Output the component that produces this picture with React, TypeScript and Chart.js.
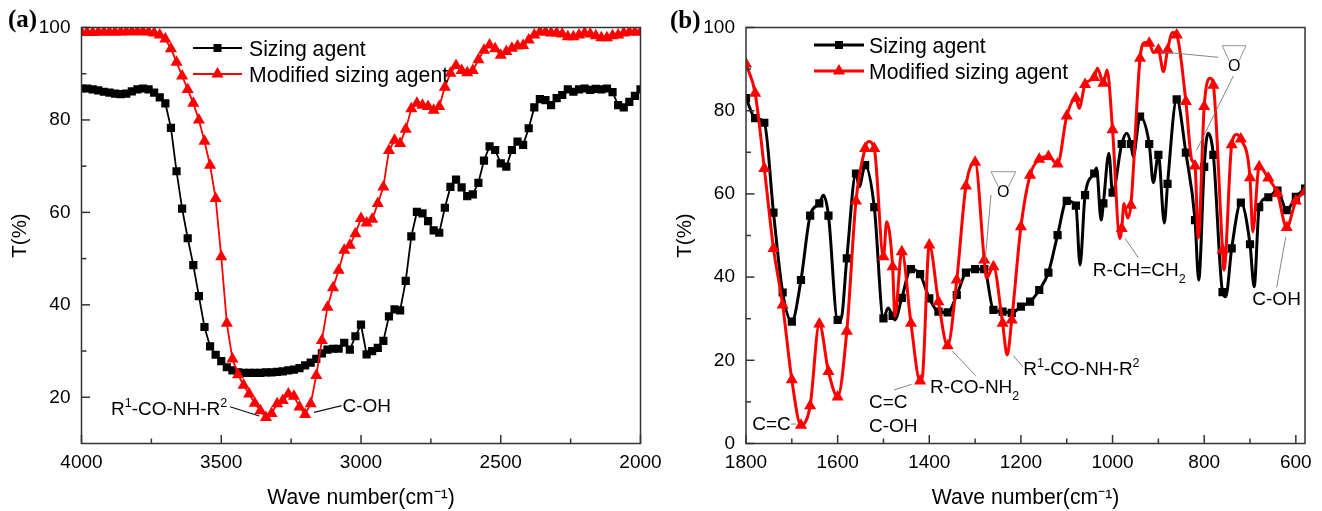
import React, { useEffect, useRef } from "react";
import { Chart, registerables } from "chart.js";

Chart.register(...registerables);

const wavenumbersA = [4000,3980,3960,3940,3920,3900,3880,3860,3840,3820,3800,3780,3760,3740,3720,3700,3680,3660,3640,3620,3600,3580,3560,3540,3520,3500,3480,3460,3440,3420,3400,3380,3360,3340,3320,3300,3280,3260,3240,3220,3200,3180,3160,3140,3120,3100,3080,3060,3040,3020,3000,2980,2960,2940,2920,2900,2880,2860,2840,2820,2800,2780,2760,2740,2720,2700,2680,2660,2640,2620,2600,2580,2560,2540,2520,2500,2480,2460,2440,2420,2400,2380,2360,2340,2320,2300,2280,2260,2240,2220,2200,2180,2160,2140,2120,2100,2080,2060,2040,2020,2000];
const sizingA = [86.8,86.8,86.6,86.4,86.1,85.9,85.7,85.6,85.7,86.2,86.6,86.8,86.6,85.9,84.9,83.6,78.3,68.9,60.8,54.4,48.6,41.9,35.2,31.0,29.2,27.8,26.5,25.8,25.4,25.3,25.3,25.3,25.3,25.4,25.4,25.5,25.6,25.8,26.0,26.3,26.9,27.5,28.3,29.5,30.3,30.5,30.5,31.8,30.3,33.2,35.7,29.3,30.0,30.7,32.2,37.5,39.0,38.8,45.2,54.8,60.1,59.8,58.1,56.1,55.6,61.0,65.5,67.1,65.4,63.5,63.9,66.4,71.2,74.3,73.5,70.6,69.9,73.5,75.3,74.6,78.2,82.7,84.5,84.3,83.2,84.7,85.4,86.6,86.1,86.6,86.8,86.5,86.7,86.6,86.8,86.0,83.2,82.7,83.9,85.2,86.6];
const modifiedA = [98.9,98.9,98.9,99,99,99,99,99,99.1,99.1,99.1,99.1,99,98.8,98.4,97.5,95.4,92.5,89.5,86.6,83.6,80.0,75.4,70.2,63.0,50.4,36.0,28.3,24.9,22.6,20.7,18.7,17.1,15.6,16.5,18.6,19.3,20.7,20.2,17.9,16.3,18.6,24.7,32.3,39.5,43.7,47.5,51.8,52.9,55.4,58.7,57.7,58.5,61.9,65.5,73.4,75.6,74.9,78.0,82.4,83.6,83.2,82.9,82.1,82.9,87.1,90.1,91.8,90.7,90.2,90.7,93.0,95.1,96.2,95.4,94.0,94.8,95.5,96.0,96.1,97.3,98.4,99,99,98.8,98.8,98.6,98,98,98.4,98.8,98.6,98.2,97.8,97.8,98.2,98.4,98.8,99,99,99];

const markerWnB = [1800,1780,1760,1740,1720,1700,1680,1660,1640,1620,1600,1580,1560,1540,1520,1500,1480,1460,1440,1420,1400,1380,1360,1340,1320,1300,1280,1260,1240,1220,1200,1180,1160,1140,1120,1100,1080,1060,1040,1020,1000,980,960,940,920,900,880,860,840,820,800,780,760,740,720,700,680,660,640,620,600,580];
const sizingMarkersB = [83.0,78.2,77.1,55.5,36.3,29.3,39.3,54.8,57.7,54.8,29.7,44.5,64.9,66.9,56.8,30.1,30.7,35.0,41.9,40.7,34.9,31.7,31.5,35.7,41.1,41.9,41.9,32.1,31.7,31.4,32.9,34.1,36.9,41.1,50.1,58.3,57.2,59.7,64.9,57.7,60.3,72.0,72.0,78.6,72.0,69.4,62.4,82.7,69.9,53.7,66.5,69.4,36.4,46.9,57.9,47.9,56.8,59.2,60.8,56.1,59.3,61.3];
const modifiedMarkersB = [91.2,84.2,66.1,46.9,33.3,15.3,4.4,9.1,28.7,17.3,11.2,27.0,58.3,70.9,70.9,44.9,42.5,46.1,28.9,15.0,47.7,34.1,23.5,39.3,61.9,67.6,44.1,42.5,28.9,29.7,52.1,64.5,68.3,69.0,67.2,78.7,83.0,86.3,88.0,86.6,75.4,51.7,57.3,92.6,96.2,94.6,94.6,98.2,82.2,66.7,81.0,86.1,46.5,71.8,73.2,63.9,66.5,63.8,60.1,51.9,58.3,60.5];
const sizingExtraWnB = [1631,1593,1553,1490,1475,1071,1035,1025,1008,969,955,911,887,812,792,753,691];
const sizingExtraB = [59.7,29.7,61.7,32.6,29.7,42.9,66.2,53.7,69.8,74.6,69.0,62.7,53.0,39.3,74.6,35.3,37.7];
const modifiedExtraWnB = [1533,1493,1475,1415,1275,1230,1073,1033,1012,984,975,967,929,911,889,869,827,813,787,757,729,694];
const modifiedExtraB = [72.6,53.3,30.5,16.0,39.8,21.3,80.6,90.2,89.8,49.3,57.7,54.2,96.4,94.0,89.4,98.8,68.1,49.4,87.8,41.7,74.3,50.9];

const seriesNames = ["Sizing agent", "Modified sizing agent"];
const xTitle = "Wave number(cm⁻¹)";
const yTitle = "T(%)";
const xMajorA = [4000, 3500, 3000, 2500, 2000];
const xMinorA = [3750, 3250, 2750, 2250];
const yMajorA = [100, 80, 60, 40, 20];
const yMinorA = [90, 70, 50, 30];
const xMajorB = [1800, 1600, 1400, 1200, 1000, 800, 600];
const xMinorB = [1700, 1500, 1300, 1100, 900, 700];
const yMajorB = [100, 80, 60, 40, 20, 0];
const yMinorB = [90, 70, 50, 30, 10];

const FONT = '"Liberation Sans", Arial, sans-serif';
const BLACK = "#000000";
const RED = "#ff0000";
const FRAME = "#333333";

type Seg = [string, number];
const sup = (ctx: any, x: number, y: number, segs: Seg[], size: number) => {
  let cx = x;
  ctx.textAlign = "left";
  ctx.textBaseline = "alphabetic";
  for (const [t, shift] of segs) {
    const s = shift === 0 ? size : 12.5;
    ctx.font = `${s}px ${FONT}`;
    ctx.fillText(t, cx, y + (shift > 0 ? -8 : shift < 0 ? 7 : 0));
    cx += ctx.measureText(t).width;
  }
};

const seg = (ctx: any, color: string, w: number, pts: number[]) => {
  ctx.strokeStyle = color;
  ctx.lineWidth = w;
  ctx.beginPath();
  ctx.moveTo(pts[0], pts[1]);
  ctx.lineTo(pts[2], pts[3]);
  ctx.stroke();
};

const frameAndTicks = {
  id: "frameAndTicks",
  afterDatasetsDraw(chart: any) {
    const { ctx, chartArea: a, scales } = chart;
    ctx.save();
    ctx.strokeStyle = FRAME;
    ctx.lineWidth = 1.5;
    ctx.strokeRect(a.left, a.top, a.right - a.left, a.bottom - a.top);
    for (const t of scales.x.ticks) {
      const p = scales.x.getPixelForValue(t.value);
      const l = t.label ? 8.5 : 5;
      seg(ctx, FRAME, 1.5, [p, a.bottom, p, a.bottom - l]);
    }
    for (const t of scales.y.ticks) {
      const p = scales.y.getPixelForValue(t.value);
      const l = t.label ? 8.5 : 5;
      seg(ctx, FRAME, 1.5, [a.left, p, a.left + l, p]);
    }
    ctx.restore();
  },
};

const legendMark = (ctx: any, color: string, w: number, x0: number, x1: number, y: number, tri: boolean, mr: number) => {
  seg(ctx, color, w, [x0, y, x1, y]);
  ctx.fillStyle = color;
  const cx = (x0 + x1) / 2;
  ctx.beginPath();
  if (tri) {
    ctx.moveTo(cx, y - mr);
    ctx.lineTo(cx + 0.87 * mr, y + mr / 2);
    ctx.lineTo(cx - 0.87 * mr, y + mr / 2);
    ctx.closePath();
    ctx.fill();
  } else {
    ctx.fillRect(cx - mr, y - mr, 2 * mr, 2 * mr);
  }
};

const annotationsA = {
  id: "annotationsA",
  afterDatasetsDraw(chart: any) {
    const { ctx } = chart;
    ctx.save();
    ctx.fillStyle = "#000";
    ctx.font = 'bold 25px "Liberation Serif", serif';
    ctx.textAlign = "left";
    ctx.textBaseline = "alphabetic";
    ctx.fillText("(a)", 8, 27);
    legendMark(ctx, BLACK, 1.8, 193, 242, 48, false, 4);
    legendMark(ctx, RED, 1.8, 193, 242, 74, true, 7);
    ctx.fillStyle = "#000";
    ctx.font = `21.2px ${FONT}`;
    ctx.fillText(seriesNames[0], 249, 55.5);
    ctx.fillText(seriesNames[1], 249, 81.5);
    sup(ctx, 111, 415, [["R", 0], ["1", 1], ["-CO-NH-R", 0], ["2", 1]], 19);
    sup(ctx, 342.5, 412, [["C-OH", 0]], 19);
    seg(ctx, "#111", 1.2, [230, 406.7, 259.3, 416]);
    seg(ctx, "#111", 1.2, [314, 412.3, 341.7, 405.7]);
    ctx.restore();
  },
};

const epoxy = (ctx: any, x0: number, x1: number, y: number, ox: number, oy: number) => {
  const mid = (x0 + x1) / 2;
  ctx.strokeStyle = "#888";
  ctx.lineWidth = 0.9;
  ctx.beginPath();
  ctx.moveTo(mid - 5, y + 15);
  ctx.lineTo(x0, y);
  ctx.lineTo(x1, y);
  ctx.lineTo(mid + 5, y + 15);
  ctx.stroke();
  ctx.fillStyle = "#000";
  ctx.font = `16px ${FONT}`;
  ctx.textAlign = "center";
  ctx.textBaseline = "middle";
  ctx.fillText("O", ox, oy);
};

const annotationsB = {
  id: "annotationsB",
  afterDatasetsDraw(chart: any) {
    const { ctx } = chart;
    const dx = -665;
    ctx.save();
    ctx.translate(dx, 0);
    ctx.fillStyle = "#000";
    ctx.font = 'bold 25px "Liberation Serif", serif';
    ctx.textAlign = "left";
    ctx.textBaseline = "alphabetic";
    ctx.fillText("(b)", 670, 28);
    legendMark(ctx, BLACK, 3, 814, 864, 45, false, 4);
    legendMark(ctx, RED, 3, 814, 864, 71, true, 7);
    ctx.fillStyle = "#000";
    ctx.font = `21.2px ${FONT}`;
    ctx.fillText(seriesNames[0], 869, 52.5);
    ctx.fillText(seriesNames[1], 869, 78.5);
    sup(ctx, 752.3, 430, [["C=C", 0]], 19);
    sup(ctx, 869, 407.7, [["C=C", 0]], 19);
    sup(ctx, 869, 431.7, [["C-OH", 0]], 19);
    sup(ctx, 930, 393.3, [["R-CO-NH", 0], ["2", -1]], 19);
    sup(ctx, 1023.3, 375, [["R", 0], ["1", 1], ["-CO-NH-R", 0], ["2", 1]], 19);
    sup(ctx, 1092.7, 275.7, [["R-CH=CH", 0], ["2", -1]], 19);
    sup(ctx, 1252.3, 305, [["C-OH", 0]], 19);
    const grey = "#777";
    seg(ctx, grey, 0.9, [791, 424, 796, 424]);
    seg(ctx, grey, 0.9, [894, 390, 911.7, 384.3]);
    seg(ctx, grey, 0.9, [952.3, 351, 975.7, 375.7]);
    seg(ctx, grey, 0.9, [1013.3, 355.7, 1022.7, 366.7]);
    seg(ctx, grey, 0.9, [1125, 238.3, 1138.3, 257.7]);
    seg(ctx, grey, 0.9, [1285.7, 237.3, 1276.7, 287.3]);
    seg(ctx, grey, 0.9, [1160, 51.7, 1218.3, 57.3]);
    seg(ctx, grey, 0.9, [1233.3, 76, 1196.7, 150]);
    seg(ctx, grey, 0.9, [991, 195, 985, 262]);
    epoxy(ctx, 1222.3, 1246, 45.7, 1234.3, 66.7);
    epoxy(ctx, 991, 1015.7, 171.7, 1003.3, 192.7);
    ctx.restore();
  },
};

const zip = (xs: number[], ys: number[]) => xs.map((x, i) => ({ x, y: ys[i] }));
const merged = (mx: number[], my: number[], ex: number[], ey: number[]) =>
  [...zip(mx, my).map((p) => ({ ...p, m: true })), ...zip(ex, ey).map((p) => ({ ...p, m: false }))].sort((a, b) => b.x - a.x);

const axes = (
  xMin: number, xMax: number, yMin: number, yMax: number,
  xMaj: number[], xMin2: number[], yMaj: number[], yMin2: number[], yWidth: number,
) => {
  const common = { grid: { display: false, drawTicks: false }, border: { display: false } };
  const lab = (maj: number[]) => (v: any) => (maj.includes(Number(v)) ? String(v) : "");
  const tf = { family: FONT, size: 19 };
  return {
    x: {
      ...common,
      type: "linear",
      reverse: true,
      min: xMin,
      max: xMax,
      afterBuildTicks: (s: any) => { s.ticks = [...xMaj, ...xMin2].sort((a, b) => a - b).map((value) => ({ value })); },
      afterFit: (s: any) => { s.height = 67.5; },
      ticks: { color: "#000", font: tf, padding: 8, autoSkip: false, maxRotation: 0, callback: lab(xMaj) },
      title: { display: true, text: xTitle, color: "#000", font: { family: FONT, size: 21.2 }, padding: { top: 2, bottom: 0 } },
    },
    y: {
      ...common,
      min: yMin,
      max: yMax,
      afterBuildTicks: (s: any) => { s.ticks = [...yMaj, ...yMin2].sort((a, b) => a - b).map((value) => ({ value })); },
      afterFit: (s: any) => { s.width = yWidth; },
      ticks: { color: "#000", font: tf, padding: 11, autoSkip: false, callback: lab(yMaj) },
      title: { display: true, text: yTitle, color: "#000", font: { family: FONT, size: 20.5 }, padding: { top: 8, bottom: 0 } },
    },
  };
};

export default function App() {
  const refA = useRef<HTMLCanvasElement>(null);
  const refB = useRef<HTMLCanvasElement>(null);

  useEffect(() => {
    const chartA = new Chart(refA.current as any, {
      type: "line",
      data: {
        datasets: [
          {
            label: seriesNames[1], data: zip(wavenumbersA, modifiedA) as any, order: 0,
            borderColor: RED, backgroundColor: RED, borderWidth: 1.8, tension: 0,
            pointStyle: "triangle", pointRadius: 7, pointBorderWidth: 0, pointBackgroundColor: RED,
          },
          {
            label: seriesNames[0], data: zip(wavenumbersA, sizingA) as any, order: 1,
            borderColor: BLACK, backgroundColor: BLACK, borderWidth: 1.8, tension: 0,
            pointStyle: "rect", pointRadius: 5.8, pointBorderWidth: 0, pointBackgroundColor: BLACK,
          },
        ],
      },
      options: {
        animation: false, responsive: false,
        layout: { padding: { left: 0, top: 27.5, right: 24.5, bottom: 0 } },
        plugins: { legend: { display: false }, tooltip: { enabled: false } },
        scales: axes(2000, 4000, 10, 100, xMajorA, xMinorA, yMajorA, yMinorA, 81.5) as any,
      },
      plugins: [frameAndTicks, annotationsA],
    });

    const radius = (r: number) => (c: any) => (c.raw && c.raw.m ? r : 0);
    const chartB = new Chart(refB.current as any, {
      type: "line",
      data: {
        datasets: [
          {
            label: seriesNames[1], data: merged(markerWnB, modifiedMarkersB, modifiedExtraWnB, modifiedExtraB) as any, order: 0,
            borderColor: RED, backgroundColor: RED, borderWidth: 3, cubicInterpolationMode: "monotone",
            pointStyle: "triangle", pointRadius: radius(7), pointBorderWidth: 0, pointBackgroundColor: RED,
          },
          {
            label: seriesNames[0], data: merged(markerWnB, sizingMarkersB, sizingExtraWnB, sizingExtraB) as any, order: 1,
            borderColor: BLACK, backgroundColor: BLACK, borderWidth: 3, cubicInterpolationMode: "monotone",
            pointStyle: "rect", pointRadius: radius(5.8), pointBorderWidth: 0, pointBackgroundColor: BLACK,
          },
        ],
      },
      options: {
        animation: false, responsive: false,
        layout: { padding: { left: 0, top: 27.5, right: 17, bottom: 0 } },
        plugins: { legend: { display: false }, tooltip: { enabled: false } },
        scales: axes(580, 1800, 0, 100, xMajorB, xMinorB, yMajorB, yMinorB, 81) as any,
      },
      plugins: [frameAndTicks, annotationsB],
    });

    return () => {
      chartA.destroy();
      chartB.destroy();
    };
  }, []);

  return (
    <div style={{ position: "absolute", left: 0, top: 0, width: 1322, height: 511, background: "#fff", overflow: "hidden" }}>
      <canvas ref={refA} width={665} height={511} style={{ position: "absolute", left: 0, top: 0 }} />
      <canvas ref={refB} width={657} height={511} style={{ position: "absolute", left: 665, top: 0 }} />
    </div>
  );
}
